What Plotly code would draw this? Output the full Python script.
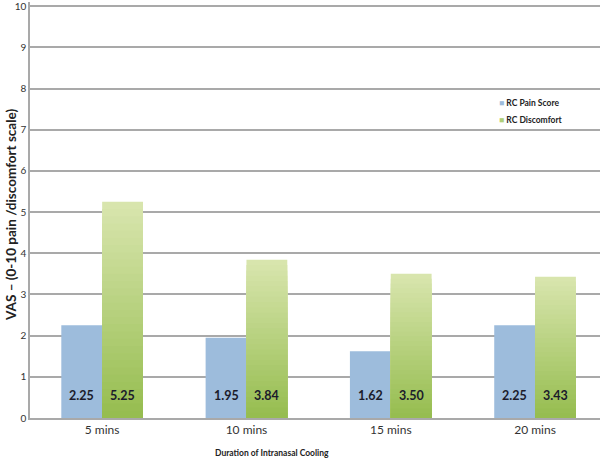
import plotly.graph_objects as go

categories = ["5 mins", "10 mins", "15 mins", "20 mins"]
pain_score = [2.25, 1.95, 1.62, 2.25]
discomfort = [5.25, 3.84, 3.50, 3.43]
series_names = ["RC Pain Score", "RC Discomfort"]
y_ticks = list(range(0, 11))

BAR_W = 0.283
BLUE = "#9dbcdc"
GREEN_TOP = (0xd8, 0xe5, 0xad)
GREEN_BOT = (0x96, 0xbd, 0x50)
GRID = "#a9a9a9"
FONT = "Lato, 'Open Sans', sans-serif"

# plot area in pixels: left 30, right 600, top 2, bottom 418
PL, PB, PH, PW = 30, 418, 416, 570

xs = list(range(len(categories)))
fig = go.Figure()

fig.add_trace(go.Bar(
    x=xs, y=pain_score, width=BAR_W, offset=-BAR_W,
    marker=dict(color=BLUE, line=dict(width=0)),
    name=series_names[0], showlegend=False, hoverinfo="y",
))

# green bars with a vertical light-to-dark gradient (layered overlays)
N = 30
for k in range(N):
    frac = (N - k) / N
    t = k / (N - 1)
    c = tuple(round(GREEN_TOP[i] + (GREEN_BOT[i] - GREEN_TOP[i]) * t) for i in range(3))
    fig.add_trace(go.Bar(
        x=xs, y=[v * frac for v in discomfort], width=BAR_W, offset=0,
        marker=dict(color="rgb(%d,%d,%d)" % c, line=dict(width=0)),
        name=series_names[1], showlegend=False,
        hoverinfo="skip" if k else "y",
    ))

for i, (p, d) in enumerate(zip(pain_score, discomfort)):
    for xv, v in ((i - BAR_W / 2, p), (i + BAR_W / 2, d)):
        fig.add_annotation(x=xv, y=0.55, xref="x", yref="y", text="<b>%.2f</b>" % v,
                           showarrow=False, font=dict(family=FONT, size=12.5, color="#1b1b2b"))

def px(xp):
    return (xp - PL) / PW

def py(yp):
    return (PB - yp) / PH

fig.add_annotation(xref="paper", yref="paper", x=px(497), y=py(103),
                   xanchor="left", yanchor="middle", showarrow=False,
                   text='<span style="color:%s">■</span> <b>%s</b>' % (BLUE, series_names[0]),
                   font=dict(family=FONT, size=8.5, color="#222"))
fig.add_annotation(xref="paper", yref="paper", x=px(497), y=py(120),
                   xanchor="left", yanchor="middle", showarrow=False,
                   text='<span style="color:#b0cf78">■</span> <b>%s</b>' % series_names[1],
                   font=dict(family=FONT, size=8.5, color="#222"))

fig.add_annotation(xref="paper", yref="paper", x=px(11), y=py(215),
                   textangle=-90, showarrow=False, xanchor="center", yanchor="middle",
                   text="<b>VAS – (0-10 pain /discomfort scale)</b>",
                   font=dict(family=FONT, size=13.5, color="#222"))
fig.add_annotation(xref="paper", yref="paper", x=px(272), y=py(453),
                   showarrow=False, xanchor="center", yanchor="middle",
                   text="<b>Duration of Intranasal Cooling</b>",
                   font=dict(family=FONT, size=8.5, color="#222"))

fig.update_layout(
    width=600, height=458,
    margin=dict(l=PL, r=600 - PL - PW, t=PB - PH, b=458 - PB, autoexpand=False),
    barmode="overlay",
    plot_bgcolor="white", paper_bgcolor="white",
    font=dict(family=FONT, color="#333"),
    showlegend=False,
)
fig.update_xaxes(
    range=[-0.5, 3.45], tickvals=xs, ticktext=categories,
    tickfont=dict(size=12, color="#333"), ticklabelstandoff=0,
    showgrid=False, showline=True, linecolor=GRID, linewidth=1.5,
    ticks="", zeroline=False, automargin=False,
)
fig.update_yaxes(
    range=[0, 10.1], tickvals=y_ticks, ticktext=[str(t) for t in y_ticks],
    tickfont=dict(size=10, color="#333"), ticklabeloverflow="allow",
    showgrid=True, gridcolor=GRID, gridwidth=1.5,
    showline=True, linecolor=GRID, linewidth=1.5,
    ticks="", zeroline=False, automargin=False,
)

fig.write_html(
    "out.html",
    config={"displayModeBar": False},
    post_script="document.body.style.margin='0';document.body.style.overflow='hidden';",
)
